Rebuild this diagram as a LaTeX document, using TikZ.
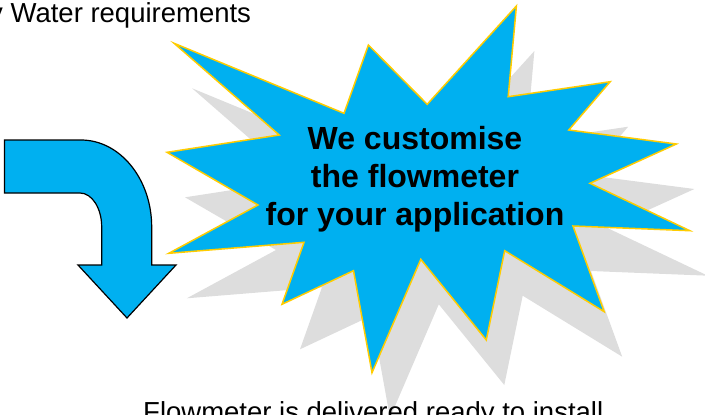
\documentclass[tikz,border=0pt]{standalone}
\usepackage{fontspec}
\setmainfont{Liberation Sans}
\definecolor{burstblue}{HTML}{00B0F0}
\definecolor{burstgold}{HTML}{FFCC00}
\definecolor{shadowgray}{HTML}{DDDDDD}
\def\burstpath{(174.1,43.3)--(344,113.3)--(368.4,45)--(427.2,104.3)--(516.4,6)--(508.2,96.7)--(610.2,81.7)--(568.8,130)--(676.4,144)--(590,183.3)--(689.8,230.7)--(573,226)--(604.2,311.7)--(504.7,250.7)--(486.3,340)--(420.8,259.3)--(372,372.7)--(353.5,270.7)--(282,304.3)--(304,242.3)--(168.8,253.3)--(258,205)--(167,152.3)--(279.2,135)--cycle}

\begin{document}
\begin{tikzpicture}[x=1pt,y=-1pt,join=miter] % Burst with shadow, bent arrow
       \useasboundingbox (0,0) rectangle (705,415);
       \clip (0,0) rectangle (705,415);
       \fill[shadowgray,xshift=18pt,yshift=-45pt] \burstpath;
       \filldraw[fill=burstblue,draw=burstgold,line width=1.5pt] \burstpath;
       \filldraw[fill=burstblue,line width=1.2pt](4.5,140)--(81,140) .. controls (120,140) and (151.7,179) .. (151.7,227)--(151.7,265)--(176,265)--(127,318)--(78,265)--(101.7,265)--(101.7,227) .. controls (101.7,208.2) and (92,193) .. (80,193)--(4.5,193)--cycle;
       \node[anchor=base west,inner sep=0pt,font=\fontsize{27.5}{32}\selectfont] (req) at (-11,22.5) {y Water requirements};
       \node[align=center,inner sep=0pt,font=\fontsize{32}{38}\selectfont\bfseries] (slogan) at (415,179) {We customise\\the flowmeter\\for your application};
       \node[anchor=base west,inner sep=0pt,font=\fontsize{27.5}{32}\selectfont] (ready) at (143,421) {Flowmeter is delivered ready to install};
   \end{tikzpicture}
\end{document}
